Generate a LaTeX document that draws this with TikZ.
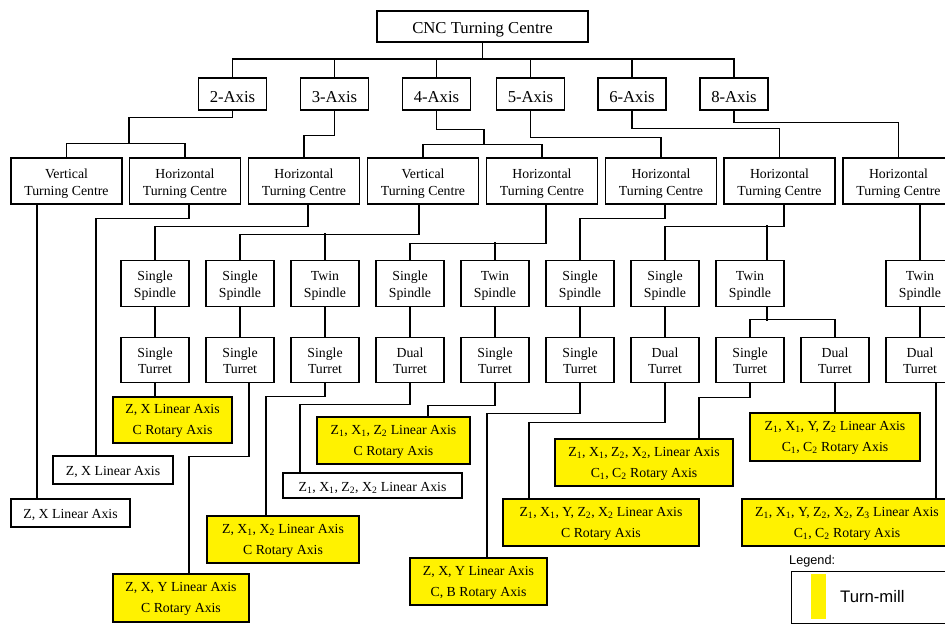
\documentclass[tikz,border=0pt]{standalone}
\usepackage{fontspec}
\setmainfont{Liberation Serif}
\newfontfamily\legfont{Liberation Sans}
\newcommand{\sbs}[1]{\textsubscript{#1}}
\newcommand{\tcl}{\rule{0pt}{15.4pt}}
\newcommand{\spl}{\rule{0pt}{13.4pt}}
\newcommand{\trl}{\rule{0pt}{11.2pt}}
\newcommand{\yl}{\rule{0pt}{11.4pt}}
\tikzset{
  box/.style={draw, line width=1.2pt, inner sep=0pt, align=center, font=\fontsize{13.8}{16.7}\selectfont},
  bigbox/.style={box, font=\fontsize{16.7}{20}\selectfont, minimum height=32pt,
    execute at begin node={\rule{0pt}{17.6pt}}},
  axbox/.style={bigbox, minimum width=68pt},
  tcbox/.style={box, minimum width=111pt, minimum height=46pt},
  spbox/.style={box, minimum width=68pt, minimum height=45.5pt},
  ybox/.style={box, fill=yellow, font=\fontsize{13.8}{21}\selectfont},
  wbox/.style={box, execute at begin node={\rule{0pt}{14pt}}},
  conn/.style={line width=1.2pt}
}
\begin{document}
\begin{tikzpicture}[x=1pt,y=-1pt]
\useasboundingbox (0,0) rectangle (945,624);
% top
\node[bigbox, minimum width=211pt, minimum height=31pt] (top) at (482.5,26.5) {CNC Turning Centre};
% axis row
\node[axbox] (ax2) at (232.5,94) {2-Axis};
\node[axbox] (ax3) at (334.5,94) {3-Axis};
\node[axbox] (ax4) at (436.5,94) {4-Axis};
\node[axbox] (ax5) at (530.5,94) {5-Axis};
\node[axbox] (ax6) at (632,94) {6-Axis};
\node[axbox] (ax8) at (734,94) {8-Axis};
% turning centres
\node[tcbox] (vtc1) at (66.5,181) {\tcl Vertical\\Turning Centre};
\node[tcbox] (htc1) at (185,181) {\tcl Horizontal\\Turning Centre};
\node[tcbox] (tc3) at (304,181) {\tcl Horizontal\\Turning Centre};
\node[tcbox] (vtc4) at (423,181) {\tcl Vertical\\Turning Centre};
\node[tcbox] (htc4) at (542,181) {\tcl Horizontal\\Turning Centre};
\node[tcbox] (tc5) at (661,181) {\tcl Horizontal\\Turning Centre};
\node[tcbox] (tc6) at (779.5,181) {\tcl Horizontal\\Turning Centre};
\node[tcbox] (tc8) at (898.5,181) {\tcl Horizontal\\Turning Centre};
% spindles
\node[spbox] (ss1) at (155,283.5) {\spl Single\\Spindle};
\node[spbox] (ss2) at (240,283.5) {\spl Single\\Spindle};
\node[spbox] (ts3) at (325,283.5) {\spl Twin\\Spindle};
\node[spbox] (ss4) at (410,283.5) {\spl Single\\Spindle};
\node[spbox] (ts5) at (495,283.5) {\spl Twin\\Spindle};
\node[spbox] (ss6) at (580,283.5) {\spl Single\\Spindle};
\node[spbox] (ss7) at (665,283.5) {\spl Single\\Spindle};
\node[spbox] (ts8) at (750,283.5) {\spl Twin\\Spindle};
\node[spbox] (ts9) at (920,283.5) {\spl Twin\\Spindle};
% turrets
\node[spbox] (st1) at (155,360) {\trl Single\\Turret};
\node[spbox] (st2) at (240,360) {\trl Single\\Turret};
\node[spbox] (st3) at (325,360) {\trl Single\\Turret};
\node[spbox] (dt4) at (410,360) {\trl Dual\\Turret};
\node[spbox] (st5) at (495,360) {\trl Single\\Turret};
\node[spbox] (st6) at (580,360) {\trl Single\\Turret};
\node[spbox] (dt7) at (665,360) {\trl Dual\\Turret};
\node[spbox] (st8) at (750,360) {\trl Single\\Turret};
\node[spbox] (dt8) at (835,360) {\trl Dual\\Turret};
\node[spbox] (dt9) at (920,360) {\trl Dual\\Turret};
% outputs
\node[wbox, minimum width=119pt, minimum height=28pt] (o1) at (70.5,513) {Z, X Linear Axis};
\node[wbox, minimum width=120pt, minimum height=28pt] (o2) at (113,470) {Z, X Linear Axis};
\node[ybox, minimum width=119pt, minimum height=46pt] (o3) at (172.5,420) {\yl Z, X Linear Axis\\C Rotary Axis};
\node[ybox, minimum width=136pt, minimum height=48pt] (o4) at (181,598) {\yl Z, X, Y Linear Axis\\C Rotary Axis};
\node[ybox, minimum width=152pt, minimum height=47pt] (o5) at (283,539.5) {\yl Z, X\sbs{1}, X\sbs{2} Linear Axis\\C Rotary Axis};
\node[wbox, minimum width=179pt, minimum height=25pt] (o6) at (372.5,485.5) {Z\sbs{1}, X\sbs{1}, Z\sbs{2}, X\sbs{2} Linear Axis};
\node[ybox, minimum width=153pt, minimum height=47pt] (o7) at (393.5,440.5) {\yl Z\sbs{1}, X\sbs{1}, Z\sbs{2} Linear Axis\\C Rotary Axis};
\node[ybox, minimum width=137pt, minimum height=47pt] (o8) at (478.5,581.5) {\yl Z, X, Y Linear Axis\\C, B Rotary Axis};
\node[ybox, minimum width=196pt, minimum height=47pt] (o9) at (601,522.5) {\yl Z\sbs{1}, X\sbs{1}, Y, Z\sbs{2}, X\sbs{2} Linear Axis\\C Rotary Axis};
\node[ybox, minimum width=178pt, minimum height=47pt] (o10) at (644,462.5) {\yl Z\sbs{1}, X\sbs{1}, Z\sbs{2}, X\sbs{2}, Linear Axis\\C\sbs{1}, C\sbs{2} Rotary Axis};
\node[ybox, minimum width=170pt, minimum height=48pt] (o11) at (835,437) {\yl Z\sbs{1}, X\sbs{1}, Y, Z\sbs{2} Linear Axis\\C\sbs{1}, C\sbs{2} Rotary Axis};
\node[ybox, minimum width=210pt, minimum height=47pt] (o12) at (847,522.5) {\yl Z\sbs{1}, X\sbs{1}, Y, Z\sbs{2}, X\sbs{2}, Z\sbs{3} Linear Axis\\C\sbs{1}, C\sbs{2} Rotary Axis};
% connectors: top to axes
\coordinate (bus0) at (0,59);
\draw[conn] (top.south) -- (top.south |- bus0);
\draw[conn] (ax2.north) |- (bus0 -| ax8.north) -- (ax8.north);
\foreach \n in {ax3,ax4,ax5,ax6} \draw[conn] (\n.north) -- (\n.north |- bus0);
% axes to turning centres
\draw[conn] (ax2.south) -- ++(0,7) -| (129,144);
\draw[conn] (vtc1.north) -- ++(0,-14) -| (htc1.north);
\draw[conn] (ax3.south) -- ++(0,25) -| (tc3.north);
\draw[conn] (ax4.south) -- ++(0,19) -| (484,145);
\draw[conn] (vtc4.north) -- ++(0,-13) -| (htc4.north);
\draw[conn] (ax5.south) -- ++(0,27) -| (tc5.north);
\draw[conn] (ax6.south) -- ++(0,18) -| (tc6.north);
\draw[conn] (ax8.south) -- ++(0,12) -| (tc8.north);
% turning centres to spindles / outputs
\draw[conn] ([xshift=-29.5pt]vtc1.south) -- ([xshift=-29.5pt]vtc1.south |- o1.north);
\draw[conn] ([xshift=4pt]htc1.south) -- ++(0,14) -| ([xshift=-17pt]o2.north);
\draw[conn] ([xshift=4pt]tc3.south) -- ++(0,22) -| (ss1.north);
\draw[conn] ([xshift=-4pt]vtc4.south) -- ++(0,30) -| (ss2.north);
\draw[conn] (ts3.north) -- ++(0,-27);
\draw[conn] ([xshift=4pt]htc4.south) -- ++(0,39) -| (ss4.north);
\draw[conn] (ts5.north) -- ++(0,-18);
\draw[conn] ([xshift=4pt]tc5.south) -- ++(0,14) -| (ss6.north);
\draw[conn] ([xshift=4.5pt]tc6.south) -- ++(0,22) -| (ss7.north);
\draw[conn] ([xshift=17pt]ts8.north) -- ++(0,-35);
\draw[conn] ([xshift=21.5pt]tc8.south) -- (ts9.north);
% spindles to turrets
\draw[conn] (ss1) -- (st1);
\draw[conn] (ss2) -- (st2);
\draw[conn] (ts3) -- (st3);
\draw[conn] (ss4) -- (dt4);
\draw[conn] (ts5) -- (st5);
\draw[conn] (ss6) -- (st6);
\draw[conn] (ss7) -- (dt7);
\draw[conn] (ts9) -- (dt9);
\draw[conn] ([xshift=17pt]ts8.south) -- ++(0,14);
\draw[conn] (st8.north) -- ++(0,-17) -| (dt8.north);
% turrets to outputs
\draw[conn] (st1.south) -- (st1.south |- o3.north);
\draw[conn] ([xshift=9pt]st2.south) -- ++(0,73) -| ([xshift=8pt]o4.north);
\draw[conn] (st3.south) -- ++(0,13) -| ([xshift=-17pt]o5.north);
\draw[conn] (dt4.south) -- ++(0,21) -| ([xshift=-72.5pt]o6.north);
\draw[conn] (st5.south) -- ++(0,22) -| ([xshift=34.5pt]o7.north);
\draw[conn] (st6.south) -- ++(0,30) -| ([xshift=8.5pt]o8.north);
\draw[conn] (dt7.south) -- ++(0,39) -| ([xshift=-72pt]o9.north);
\draw[conn] (st8.south) -- ++(0,14) -| ([xshift=55pt]o10.north);
\draw[conn] (dt8.south) -- (dt8.south |- o11.north);
\draw[conn] ([xshift=16pt]dt9.south) -- ([xshift=16pt]dt9.south |- o12.north);
% legend
\node[anchor=west, inner sep=0pt, font=\legfont\fontsize{12.7}{14}\selectfont] (legt) at (789,561) {Legend:};
\node[draw, line width=1.2pt, minimum width=170pt, minimum height=52pt, inner sep=0pt, anchor=north west] (legbox) at (791,571) {};
\node[fill=yellow, minimum width=15pt, minimum height=45pt, inner sep=0pt] (legbar) at (818.5,596.5) {};
\node[anchor=west, inner sep=0pt, font=\legfont\fontsize{16.7}{18}\selectfont] (legl) at (840,597) {Turn-mill};
\end{tikzpicture}
\end{document}
